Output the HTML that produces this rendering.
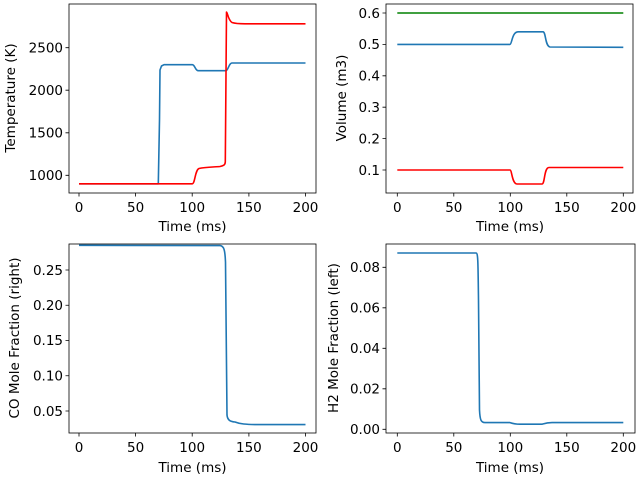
<!DOCTYPE html>
<html><head><style>body{margin:0;background:#fff}svg{display:block}text{font-family:"DejaVu Sans","Liberation Sans",sans-serif;font-size:13.5px;fill:#000}</style></head>
<body>
<svg width="640" height="480" viewBox="0 0 640 480" xmlns="http://www.w3.org/2000/svg">
<g fill="none" stroke-width="1.6" stroke-linejoin="round">
<path stroke="#1f77b4" d="M79,183.8 L158.3,183.8 L159.5,120 L160,70 L161.5,66 L164,64.7 L192.3,64.7 C195,65 195,70 198,70.7 L226,70.7 C228,70.7 229,63 232,63 L305.5,63"/>
<path stroke="#ff0000" d="M79,183.8 L192.3,183.8 C195,183.8 195,170 199,168.5 C205,167 215,167 220,166.5 C224,165.5 225,165 225.3,162 L226.5,12 C227.5,12 228,20 232,22.5 C236,23.8 240,23.8 245,23.8 L305.5,23.8"/>
<path stroke="#1f77b4" d="M397.3,44.4 L510,44.4 C512,44 512,32 518,31.8 L543,31.8 C546,32 545,46 550,47 L623.3,47.3"/>
<path stroke="#008000" d="M397.3,13 L623.3,13"/>
<path stroke="#ff0000" d="M397.3,170 L510,170 C512,170 512,184 517,184 L542,184 C545,184 544,167.5 549,167.5 L623.3,167.5"/>
<path stroke="#1f77b4" d="M79,245.3 L220,245.6 C224,246 225,250 225.5,262 L227,415 C227.5,420 230,421.6 235,422 C240,424 245,424.5 260,424.6 L305.5,424.6"/>
<path stroke="#1f77b4" d="M397.3,253 L476,253 C478,253 478,260 478.5,300 L479.5,410 C480,420 481,422.6 485,422.6 L510,422.6 C514,424 516,424.2 520,424.2 L542,424.2 C546,423 547,422.6 552,422.6 L623.3,422.6"/>
</g>
<g fill="none" stroke="#000" stroke-width="0.8">
<rect x="69" y="4" width="247" height="189"/>
<rect x="386" y="4" width="247" height="189"/>
<rect x="69" y="244" width="247" height="189"/>
<rect x="386" y="244" width="249" height="189"/>
<path d="M79,193v3.5M135.6,193v3.5M192.2,193v3.5M248.9,193v3.5M305.5,193v3.5
M397.3,193v3.5M453.8,193v3.5M510.3,193v3.5M566.8,193v3.5M623.3,193v3.5
M79,433v3.5M135.6,433v3.5M192.2,433v3.5M248.9,433v3.5M305.5,433v3.5
M397.3,433v3.5M453.8,433v3.5M510.3,433v3.5M566.8,433v3.5M623.3,433v3.5
M69,175.3h-3.5M69,132.8h-3.5M69,90.2h-3.5M69,47.7h-3.5
M386,170h-3.5M386,138.6h-3.5M386,107.2h-3.5M386,75.8h-3.5M386,44.4h-3.5M386,13h-3.5
M69,411h-3.5M69,375.75h-3.5M69,340.5h-3.5M69,305.25h-3.5M69,270h-3.5
M386,429.3h-3.5M386,388.8h-3.5M386,348.3h-3.5M386,307.8h-3.5M386,267.3h-3.5"/>
</g>
<g text-anchor="middle">
<text x="79" y="212">0</text><text x="135.6" y="212">50</text><text x="192.2" y="212">100</text><text x="248.9" y="212">150</text><text x="305.5" y="212">200</text>
<text x="397.3" y="212">0</text><text x="453.8" y="212">50</text><text x="510.3" y="212">100</text><text x="566.8" y="212">150</text><text x="623.3" y="212">200</text>
<text x="79" y="452">0</text><text x="135.6" y="452">50</text><text x="192.2" y="452">100</text><text x="248.9" y="452">150</text><text x="305.5" y="452">200</text>
<text x="397.3" y="452">0</text><text x="453.8" y="452">50</text><text x="510.3" y="452">100</text><text x="566.8" y="452">150</text><text x="623.3" y="452">200</text>
<text x="192.5" y="231">Time (ms)</text><text x="510" y="231">Time (ms)</text>
<text x="192.5" y="472">Time (ms)</text><text x="510" y="472">Time (ms)</text>
<text transform="translate(15,98) rotate(-90)">Temperature (K)</text>
<text transform="translate(346,98) rotate(-90)">Volume (m3)</text>
<text transform="translate(19,338) rotate(-90)">CO Mole Fraction (right)</text>
<text transform="translate(338,338) rotate(-90)">H2 Mole Fraction (left)</text>
</g>
<g text-anchor="end">
<text x="63" y="180">1000</text><text x="63" y="137.5">1500</text><text x="63" y="95">2000</text><text x="63" y="52.5">2500</text>
<text x="380" y="175">0.1</text><text x="380" y="143.5">0.2</text><text x="380" y="112">0.3</text><text x="380" y="80.5">0.4</text><text x="380" y="49">0.5</text><text x="380" y="18">0.6</text>
<text x="63" y="416">0.05</text><text x="63" y="380.5">0.10</text><text x="63" y="345">0.15</text><text x="63" y="310">0.20</text><text x="63" y="275">0.25</text>
<text x="380" y="434">0.00</text><text x="380" y="393.5">0.02</text><text x="380" y="353">0.04</text><text x="380" y="312.5">0.06</text><text x="380" y="272">0.08</text>
</g>
</svg>
</body></html>
